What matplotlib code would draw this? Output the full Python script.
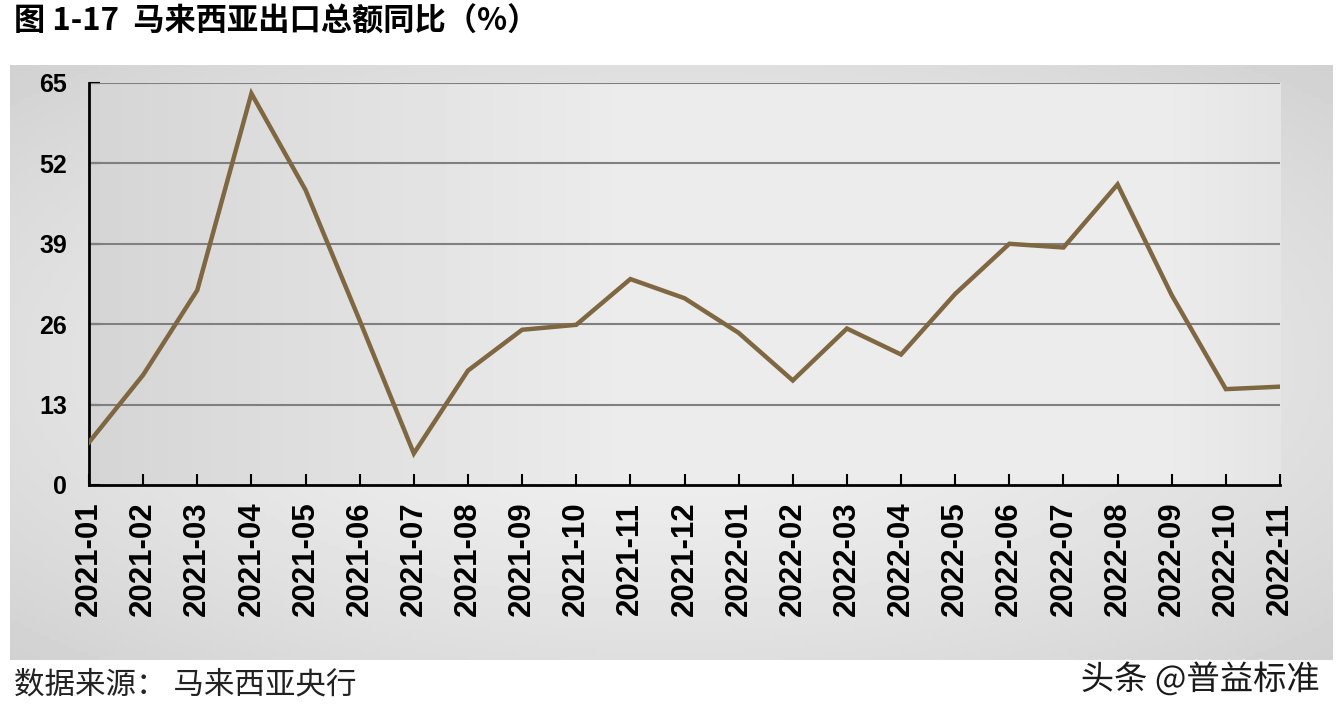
import matplotlib.pyplot as plt
import matplotlib.patheffects as pe
import numpy as np

# 马来西亚出口总额同比（%）
months = ['2021-01', '2021-02', '2021-03', '2021-04', '2021-05', '2021-06',
          '2021-07', '2021-08', '2021-09', '2021-10', '2021-11', '2021-12',
          '2022-01', '2022-02', '2022-03', '2022-04', '2022-05', '2022-06',
          '2022-07', '2022-08', '2022-09', '2022-10', '2022-11']
export_yoy = [6.9, 17.8, 31.5, 63.3, 47.7, 26.6,
              5.1, 18.5, 25.1, 25.9, 33.3, 30.2,
              24.6, 16.9, 25.3, 21.1, 30.9, 39.0,
              38.4, 48.6, 30.7, 15.5, 15.9]
y_ticks = [0, 13, 26, 39, 52, 65]

W, H = 1340, 714
fig = plt.figure(figsize=(W / 100, H / 100), dpi=100)
fig.patch.set_facecolor('white')

# outer gray panel with a soft radial gradient
bg = fig.add_axes([10 / W, 1 - 660 / H, 1323 / W, 595 / H])
gx, gy = np.meshgrid(np.linspace(-1, 1, 300), np.linspace(-1, 1, 150))
r = np.sqrt(gx ** 2 + gy ** 2) / np.sqrt(2)
bg.imshow(0.95 - 0.13 * r ** 1.5, cmap='gray', vmin=0, vmax=1,
          aspect='auto', extent=[0, 1, 0, 1])
bg.set_axis_off()

ax = fig.add_axes([89 / W, 1 - 485 / H, 1191 / W, 402 / H])
# plot area: darker towards the left edge
gx2, gy2 = np.meshgrid(np.linspace(0, 1, 300), np.linspace(-1, 1, 100))
shade = 0.925 - 0.09 * np.clip(1 - gx2 * 2.2, 0, 1) - 0.03 * np.clip(gx2 - 0.9, 0, 1) * 10
ax.imshow(shade, cmap='gray', vmin=0, vmax=1, aspect='auto',
          extent=[0, len(months) - 1, 0, 65], zorder=0)

x = np.arange(len(months))
ax.plot(x, export_yoy, color='#7f6741', linewidth=3.2, zorder=3,
        solid_joinstyle='miter')

ax.set_xlim(0, len(months) - 1)
ax.set_ylim(0, 65)
ax.set_yticks(y_ticks)
ax.set_xticks(x)
ax.set_xticklabels(months, rotation=90)
for t in y_ticks[1:]:
    ax.axhline(t, color='#808080', linewidth=1.5, zorder=2)

for side in ['top', 'right']:
    ax.spines[side].set_visible(False)
for side in ['left', 'bottom']:
    ax.spines[side].set_linewidth(2)
    ax.spines[side].set_color('black')

ax.tick_params(axis='both', direction='in', length=8, width=1.5, colors='black')
ax.tick_params(axis='y', pad=16)
ax.tick_params(axis='x', pad=12)
for lab in ax.get_yticklabels():
    lab.set_fontfamily('Liberation Sans')
    lab.set_fontweight('bold')
    lab.set_fontsize(18)
for lab in ax.get_xticklabels():
    lab.set_fontfamily('Liberation Sans')
    lab.set_fontweight('bold')
    lab.set_fontsize(22.5)

cjk = ['Noto Sans CJK SC', 'DejaVu Sans']
fig.text(14 / W, 1 - 22 / H, '图 1-17  马来西亚出口总额同比（%）', family=cjk,
         fontsize=22.5, fontweight='bold', ha='left', va='center')
fig.text(14 / W, 1 - 685 / H, '数据来源： 马来西亚央行', family=cjk,
         fontsize=22, style='italic', ha='left', va='center', color='#222222')
fig.text(1320 / W, 1 - 680 / H, '头条 @普益标准', family=cjk,
         fontsize=24, fontweight='medium', ha='right', va='center', color='#1a1a1a',
         path_effects=[pe.withStroke(linewidth=3, foreground='white')])

fig.savefig('out.png', dpi=100)
